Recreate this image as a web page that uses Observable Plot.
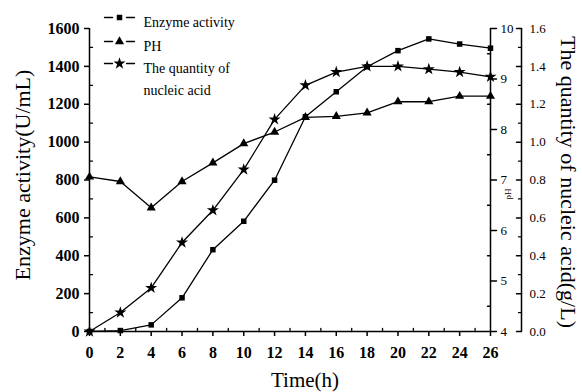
<!DOCTYPE html>
<html><head><meta charset="utf-8">
<script src="https://cdn.jsdelivr.net/npm/d3@7"></script>
<script src="https://cdn.jsdelivr.net/npm/@observablehq/plot@0.6"></script>
<style>body{margin:0;background:#fff} #chart{width:582px;height:392px}</style>
</head><body><div id="chart"></div>
<script>
// Data
const time = [0, 2, 4, 6, 8, 10, 12, 14, 16, 18, 20, 22, 24, 26];
const enzyme = [0, 5, 35, 178, 432, 582, 799, 1134, 1266, 1398, 1483, 1545, 1518, 1496];
const ph = [7.06, 6.97, 6.45, 6.97, 7.34, 7.72, 7.95, 8.24, 8.26, 8.33, 8.55, 8.55, 8.66, 8.66];
const nucleic = [0, 0.10, 0.23, 0.47, 0.64, 0.855, 1.12, 1.30, 1.37, 1.40, 1.40, 1.385, 1.37, 1.345];

const seriesNames = ["Enzyme activity", "PH", "The quantity of", "nucleic acid"];
const seriesSymbols = ["square", "triangle", "star"];

// Tick labels
const enzymeTicks = [0, 200, 400, 600, 800, 1000, 1200, 1400, 1600];
const enzymeMinor = [100, 300, 500, 700, 900, 1100, 1300, 1500];
const timeTicks = [0, 2, 4, 6, 8, 10, 12, 14, 16, 18, 20, 22, 24, 26];
const timeMinor = [1, 3, 5, 7, 9, 11, 13, 15, 17, 19, 21, 23, 25];
const phTicks = [4, 5, 6, 7, 8, 9, 10];
const phMinor = [4.5, 5.5, 6.5, 7.5, 8.5, 9.5];
const nucleicTicks = [0, 0.2, 0.4, 0.6, 0.8, 1.0, 1.2, 1.4, 1.6];
const nucleicMinor = [0.1, 0.3, 0.5, 0.7, 0.9, 1.1, 1.3, 1.5];

// map secondary axes onto the enzyme (left) scale
const phToY = p => (p - 4) / 6 * 1600;
const nToY = n => n * 1000;

const rows = time.flatMap((t, i) => [
  {t, v: enzyme[i], s: 0},
  {t, v: phToY(ph[i]), s: 1},
  {t, v: nToY(nucleic[i]), s: 2}
]);

const symR = [3.1, 3.4, 3.8];
const sw = 1.3;
const tickShape = {draw(context, l) { context.moveTo(0, 0); context.lineTo(0, -l); }};

const legendMarks = [];
const rowDy = [-11, 13, 35];
for (let i = 0; i < 3; i++) {
  legendMarks.push(
    Plot.vector([0], {x: null, y: null, frameAnchor: "top-left", dx: 15, dy: rowDy[i], length: 8, rotate: 90, anchor: "start", shape: tickShape, strokeWidth: sw}),
    Plot.vector([0], {x: null, y: null, frameAnchor: "top-left", dx: 37, dy: rowDy[i], length: 8, rotate: 90, anchor: "start", shape: tickShape, strokeWidth: sw}),
    Plot.dot([0], {x: null, y: null, frameAnchor: "top-left", dx: 30, dy: rowDy[i], symbol: seriesSymbols[i], r: symR[i], fill: "black", stroke: "none"})
  );
}
const textDy = [-11, 13, 35, 57];
seriesNames.forEach((name, i) => {
  legendMarks.push(Plot.text([name], {x: null, y: null, text: d => d, frameAnchor: "top-left", dx: 54, dy: textDy[i], textAnchor: "start", fontSize: 14}));
});

const chart = Plot.plot({
  width: 582,
  height: 392,
  marginLeft: 89,
  marginRight: 92,
  marginTop: 28,
  marginBottom: 61,
  style: {fontFamily: "'Liberation Serif', 'Times New Roman', serif", fontSize: "13px", color: "black", background: "white", overflow: "visible"},
  x: {domain: [0, 26]},
  y: {domain: [0, 1600]},
  marks: [
    // axis lines
    Plot.ruleX([time[0]], {strokeWidth: 1.5}),
    Plot.ruleX([time[time.length - 1]], {strokeWidth: 1.5}),
    Plot.ruleX([time[time.length - 1]], {dx: 31, strokeWidth: 1.5}),
    Plot.ruleY([enzymeTicks[0]], {strokeWidth: 1.5}),
    // left axis
    Plot.axisY(enzymeTicks, {anchor: "left", tickSize: 5, tickPadding: 5, fontSize: 16, fontWeight: "bold", tickFormat: d => String(d), label: null, strokeWidth: 1.5}),
    Plot.vector(enzymeMinor, {y: d => d, frameAnchor: "left", length: 3, rotate: 90, anchor: "start", shape: tickShape, strokeWidth: 1.3}),
    // bottom axis
    Plot.axisX(timeTicks, {anchor: "bottom", tickSize: 5, tickPadding: 10, fontSize: 16, fontWeight: "bold", tickFormat: d => String(d), label: null, strokeWidth: 1.5}),
    Plot.vector(timeMinor, {x: d => d, frameAnchor: "bottom", length: 3, rotate: 0, anchor: "start", shape: tickShape, strokeWidth: 1.3}),
    // pH axis
    Plot.vector(phTicks, {y: phToY, frameAnchor: "right", length: 6, rotate: 90, anchor: "start", shape: tickShape, strokeWidth: 1.5}),
    Plot.vector(phMinor, {y: phToY, frameAnchor: "right", length: 3, rotate: -90, anchor: "start", shape: tickShape, strokeWidth: 1.3}),
    Plot.text(phTicks, {y: phToY, text: d => String(d), frameAnchor: "right", dx: 10, textAnchor: "start", fontSize: 13}),
    Plot.text(["pH"], {x: null, y: null, text: d => d, frameAnchor: "right", dx: 18, dy: 14, rotate: -90, textAnchor: "middle", fontSize: 9}),
    // nucleic acid axis
    Plot.vector(nucleicTicks, {y: nToY, frameAnchor: "right", dx: 31, length: 5, rotate: -90, anchor: "start", shape: tickShape, strokeWidth: 1.5}),
    Plot.vector(nucleicMinor, {y: nToY, frameAnchor: "right", dx: 31, length: 3, rotate: -90, anchor: "start", shape: tickShape, strokeWidth: 1.3}),
    Plot.text(nucleicTicks, {y: nToY, text: d => d.toFixed(1), frameAnchor: "right", dx: 39, textAnchor: "start", fontSize: 13}),
    // titles
    Plot.text(["Enzyme activity(U/mL)"], {x: null, y: null, text: d => d, frameAnchor: "left", textAnchor: "middle", dx: -67, dy: -5, rotate: -90, fontSize: 22}),
    Plot.text(["The quantity of nucleic acid(g/L)"], {x: null, y: null, text: d => d, frameAnchor: "right", textAnchor: "middle", dx: 78, dy: 2, rotate: 90, fontSize: 22}),
    Plot.text(["Time(h)"], {x: null, y: null, text: d => d, frameAnchor: "bottom", textAnchor: "middle", dx: 15, dy: 55, fontSize: 21}),
    // series
    Plot.line(rows, {x: "t", y: "v", z: "s", stroke: "black", strokeWidth: sw}),
    ...seriesSymbols.map((sym, i) => Plot.dot(rows.filter(d => d.s === i), {x: "t", y: "v", symbol: sym, r: symR[i], fill: "black", stroke: "none"})),
    ...legendMarks
  ]
});
document.getElementById("chart").appendChild(chart);
</script>
</body></html>
